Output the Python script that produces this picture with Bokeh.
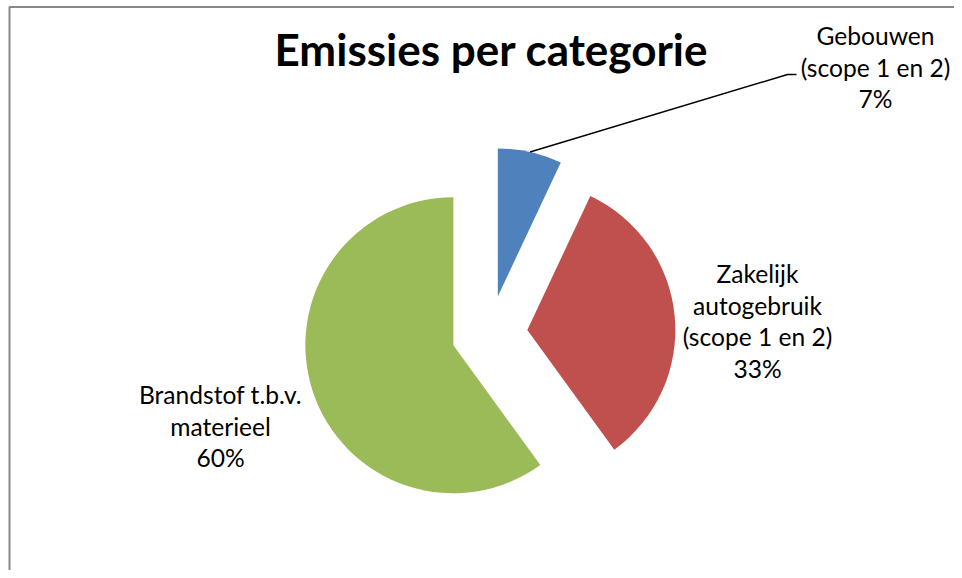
import numpy as np
from bokeh.plotting import figure
from bokeh.models import Range1d
from bokeh.core.properties import value
from bokeh.embed import file_html
from bokeh.resources import INLINE

# ---- data ----
title_text = "Emissies per categorie"
categories = ["Gebouwen\n(scope 1 en 2)",
              "Zakelijk\nautogebruik\n(scope 1 en 2)",
              "Brandstof t.b.v.\nmaterieel"]
percentages = [7, 33, 60]
colors = ["#4F81BD", "#C0504D", "#9BBB59"]

# ---- layout (pixel-like units; y measured upward from the bottom) ----
W, H = 954, 570
cx, cy = 489, H - 333
R = 148
explode = 38
label_x = [875, 757, 220]
label_first_baseline = [H - 44, H - 282, H - 403]
line_step = 31.7
FONT = "Lato"
LABEL_SIZE = 24.6
TITLE_SIZE = 44
BASELINE_FIX = 0.37  # em, compensates renderer baseline placement

p = figure(width=W, height=H, output_backend="svg", toolbar_location=None,
           x_range=Range1d(0, W), y_range=Range1d(0, H), min_border=0,
           x_axis_type=None, y_axis_type=None)
p.grid.visible = False
p.outline_line_color = None
p.background_fill_color = "white"
p.border_fill_color = "white"

frac = np.array(percentages, dtype=float) / sum(percentages)
cum = np.concatenate([[0.0], np.cumsum(frac)])
start = np.pi / 2 - cum[:-1] * 2 * np.pi
end = np.pi / 2 - cum[1:] * 2 * np.pi
mid = (start + end) / 2
xs = cx + explode * np.cos(mid)
ys = cy + explode * np.sin(mid)

p.wedge(x=xs, y=ys, radius=R, start_angle=start, end_angle=end,
        direction="clock", fill_color=colors, line_color=None)

# leader line for the small slice
lx0 = xs[0] + R * np.cos(mid[0])
ly0 = ys[0] + R * np.sin(mid[0])
p.line(x=[lx0, 787, 796], y=[ly0, H - 74, H - 74], line_color="black", line_width=1.5)

# labels
tx, ty, tt = [], [], []
for i, (cat, pct) in enumerate(zip(categories, percentages)):
    lines = cat.split("\n") + [f"{pct}%"]
    for j, ln in enumerate(lines):
        tx.append(label_x[i])
        ty.append(label_first_baseline[i] - j * line_step + BASELINE_FIX * LABEL_SIZE)
        tt.append(ln)
p.text(x=tx, y=ty, text=tt, text_font=value(FONT), text_font_size=f"{LABEL_SIZE}px",
       text_align="center", text_baseline="alphabetic", text_color="black")

# title
p.text(x=[491], y=[H - 65 + BASELINE_FIX * TITLE_SIZE], text=[title_text], text_font=value(FONT),
       text_font_size=f"{TITLE_SIZE}px", text_font_style="bold",
       text_align="center", text_baseline="alphabetic", text_color="black")

# chart border (left and top visible)
p.line(x=[9, 9, W], y=[0, H - 6.5, H - 6.5], line_color="#878787", line_width=2)

open("out.html", "w").write(file_html(p, INLINE))
